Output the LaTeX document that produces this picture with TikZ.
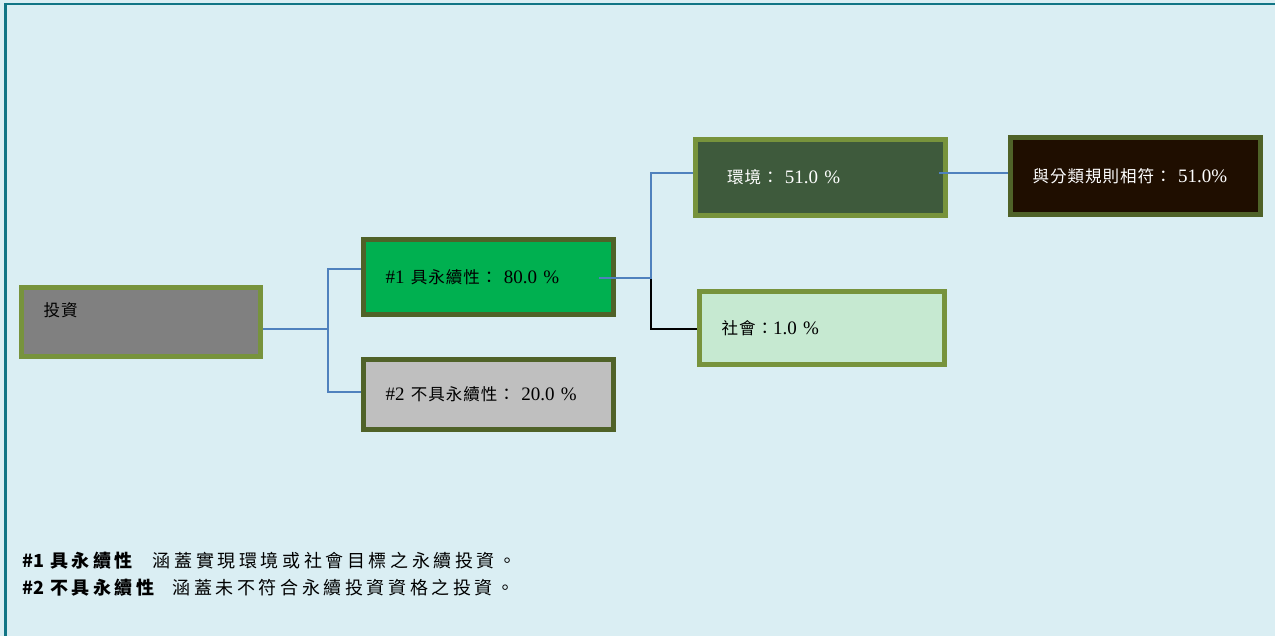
\documentclass[tikz,border=0pt]{standalone}
\usepackage{fontspec}
\setmainfont{Liberation Serif}
\newfontfamily\cjk{Noto Sans CJK TC}[Scale=0.87,LetterSpace=6]
\newfontfamily\notefont{Noto Sans CJK TC}[LetterSpace=20]
\newfontfamily\notehead{Noto Sans CJK TC}
\usetikzlibrary{positioning}

\definecolor{bgblue}{HTML}{DAEEF3}
\definecolor{frameteal}{HTML}{117585}
\definecolor{linkblue}{HTML}{4F81BD}
\definecolor{lightolive}{HTML}{77933C}
\definecolor{darkolive}{HTML}{4F6228}
\definecolor{invgray}{HTML}{808080}
\definecolor{susgreen}{HTML}{00B050}
\definecolor{nonsilver}{HTML}{BFBFBF}
\definecolor{envgreen}{HTML}{3E5A3C}
\definecolor{socmint}{HTML}{C6E9D1}
\definecolor{taxbrown}{HTML}{1F0E00}

\newcommand{\zh}[1]{{\cjk #1}}

\begin{document}
\begin{tikzpicture}[x=1pt,y=-1pt,
  box/.style={draw,line width=5pt,inner xsep=22pt,align=left,
    font=\fontsize{19}{22}\selectfont},
  link/.style={draw=linkblue,line width=2pt},
  black link/.style={draw=black,line width=2pt}]
    \fill[bgblue] (0,0) rectangle (1275,636);
    \useasboundingbox (0,0) rectangle (1275,636);
    \draw[frameteal,line width=2.5pt] (5.5,636) -- (5.5,4) -- (1275,4);

    \node[box,draw=lightolive,fill=invgray,text width=195pt,minimum height=69pt,
      text depth=24pt] (inv) at (141,322) {\zh{投資}};
    \node[box,draw=darkolive,fill=susgreen,text width=206pt,minimum height=75pt,
      right=98pt of inv,yshift=45pt] (sus) {\#1 \zh{具永續性：} 80.0 \%};
    \node[box,draw=darkolive,fill=nonsilver,text width=206pt,minimum height=70pt,
      right=98pt of inv,yshift=-72.5pt] (non) {\#2 \zh{不具永續性：} 20.0 \%};
    \node[box,draw=lightolive,fill=envgreen,text=white,inner xsep=31.5pt,
      text width=187pt,minimum height=76pt,
      right=77pt of sus,yshift=99.5pt] (env) {\zh{環境：} 51.0 \%};
    \node[box,draw=lightolive,fill=socmint,text width=201pt,minimum height=73pt,
      right=81pt of sus,yshift=-51pt] (soc) {\zh{社會：}1.0 \%};
    \node[box,draw=darkolive,fill=taxbrown,text=white,text width=206pt,
      minimum height=77pt,right=60pt of env,yshift=1.5pt] (tax)
      {\zh{與分類規則相符：} 51.0\%};

    \draw[link] ([yshift=-7pt]inv.east) -- ++(65pt,0) coordinate (inv split);
    \draw[link] (inv split) |- ([yshift=8pt]sus.west);
    \draw[link] (inv split) |- ([yshift=2.5pt]non.west);

    \draw[black link] ([xshift=35pt,yshift=-1pt]sus.east) |- ([yshift=-1pt]soc.west);
    \draw[link] ([xshift=-17pt,yshift=-1pt]sus.east) -- ++(52pt,0) coordinate (sus split)
      |- ([yshift=4.5pt]env.west);
    \draw[link] ([xshift=-9pt,yshift=4.5pt]env.east) -- ([yshift=3pt]tax.west);

    \node[anchor=north west,inner sep=0pt,align=left,
      font=\notefont\fontsize{18}{27}\selectfont] (note) at (22,552)
      {{\notehead\bfseries\#1}\hspace{6pt}{\bfseries 具永續性}\hspace{20pt}涵蓋實現環境或社會目標之永續投資。\\
       {\notehead\bfseries\#2}\hspace{6pt}{\bfseries 不具永續性}\hspace{18pt}涵蓋未不符合永續投資資格之投資。};
\end{tikzpicture}
\end{document}
